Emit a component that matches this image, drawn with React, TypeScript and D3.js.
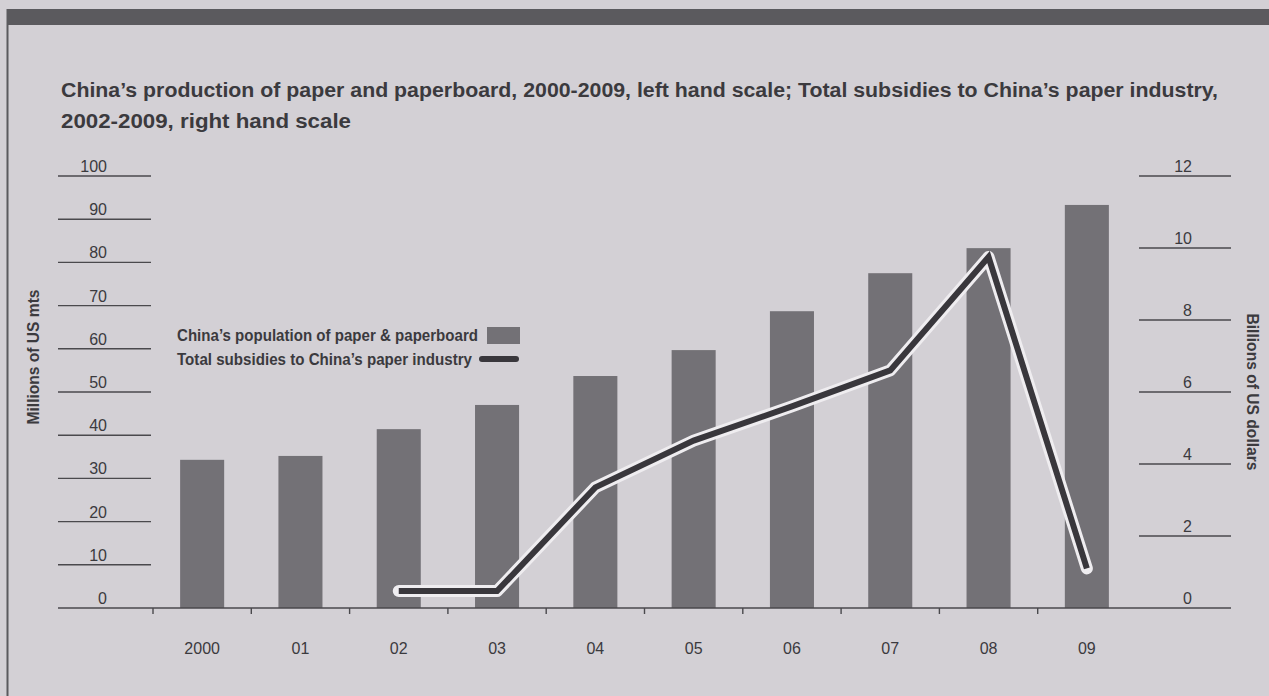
import React from "react";
import * as d3 from "d3";

const categories = ["2000", "01", "02", "03", "04", "05", "06", "07", "08", "09"];
const production = [34.3, 35.2, 41.4, 47.0, 53.7, 59.7, 68.7, 77.5, 83.3, 93.3];
const subsidyYears = ["02", "03", "04", "05", "06", "07", "08", "09"];
const subsidies = [0.47, 0.47, 3.35, 4.65, 5.6, 6.6, 9.75, 1.1];
const leftTicks = [0, 10, 20, 30, 40, 50, 60, 70, 80, 90, 100];
const rightTicks = [0, 2, 4, 6, 8, 10, 12];

const W = 1269;
const H = 696;
const BG = "#d3d0d5";
const BAR = "#737176";
const TEXT = "#3b3a3e";
const FONT = "'Liberation Sans', Arial, sans-serif";

export default function App() {
  const x = d3
    .scaleBand<string>()
    .domain(categories)
    .range([153, 1136])
    .paddingInner(0.552)
    .paddingOuter(0.276);
  const step = x.step();
  const bw = x.bandwidth();
  const yL = d3.scaleLinear().domain([0, 100]).range([608, 176]);
  const yR = d3.scaleLinear().domain([0, 12]).range([608, 176]);
  const cx = (c: string) => (x(c) as number) + bw / 2;

  const lineGen = d3
    .line<number>()
    .x((_, i) => cx(subsidyYears[i]))
    .y((d) => yR(d));
  const path = lineGen(subsidies) || "";

  const baseY = yL(0);

  return (
    <svg
      width={W}
      height={H}
      style={{ position: "absolute", left: 0, top: 0 }}
      fontFamily={FONT}
    >
      <rect x={0} y={0} width={W} height={H} fill={BG} />
      <rect x={7} y={9} width={W - 7} height={16} fill="#5b5a5e" />
      <line x1={7.5} x2={7.5} y1={9} y2={H} stroke="#5b5a5e" strokeWidth={2} />

      {/* Title */}
      <text
        x={61}
        y={97}
        fontSize={20}
        fontWeight="bold"
        fill={TEXT}
        textLength={1157}
        lengthAdjust="spacingAndGlyphs"
      >
        China’s production of paper and paperboard, 2000-2009, left hand scale; Total subsidies to China’s paper industry,
      </text>
      <text
        x={61}
        y={128}
        fontSize={20}
        fontWeight="bold"
        fill={TEXT}
        textLength={290}
        lengthAdjust="spacingAndGlyphs"
      >
        2002-2009, right hand scale
      </text>

      {/* Left axis */}
      {leftTicks.map((t) => (
        <g key={"l" + t}>
          {t > 0 && (
            <line x1={58} x2={151} y1={yL(t)} y2={yL(t)} stroke="#4a494d" strokeWidth={1.4} />
          )}
          <text x={107} y={yL(t) - 4} fontSize={16} textAnchor="end" fill={TEXT}>
            {t}
          </text>
        </g>
      ))}
      <text
        transform={`translate(39,357) rotate(-90)`}
        textAnchor="middle"
        fontSize={16}
        fontWeight="bold"
        fill={TEXT}
        textLength={135}
        lengthAdjust="spacingAndGlyphs"
      >
        Millions of US mts
      </text>

      {/* Right axis */}
      {rightTicks.map((t) => (
        <g key={"r" + t}>
          {t > 0 && (
            <line x1={1139} x2={1231} y1={yR(t)} y2={yR(t)} stroke="#4a494d" strokeWidth={1.4} />
          )}
          <text x={1192} y={yR(t) - 4} fontSize={16} textAnchor="end" fill={TEXT}>
            {t}
          </text>
        </g>
      ))}
      <text
        transform={`translate(1247,392) rotate(90)`}
        textAnchor="middle"
        fontSize={16}
        fontWeight="bold"
        fill={TEXT}
        textLength={157}
        lengthAdjust="spacingAndGlyphs"
      >
        Billions of US dollars
      </text>

      {/* Bars */}
      {categories.map((c, i) => (
        <rect
          key={"b" + c}
          x={x(c)}
          y={yL(production[i])}
          width={bw}
          height={baseY - yL(production[i])}
          fill={BAR}
        />
      ))}

      {/* Baseline and ticks */}
      <line x1={58} x2={1231} y1={baseY} y2={baseY} stroke="#4a494d" strokeWidth={1.6} />
      {categories.map((c) => {
        const tx = (x(c) as number) - (step - bw) / 2;
        return (
          <line key={"t" + c} x1={tx} x2={tx} y1={baseY} y2={baseY + 6} stroke="#4a494d" strokeWidth={1.4} />
        );
      })}
      {categories.map((c) => (
        <text key={"xl" + c} x={cx(c)} y={654} fontSize={16} textAnchor="middle" fill={TEXT}>
          {c}
        </text>
      ))}

      {/* Subsidy line */}
      <path d={path} fill="none" stroke="#efedf0" strokeWidth={12} strokeLinecap="round" strokeLinejoin="round" />
      <path d={path} fill="none" stroke="#39373c" strokeWidth={6} strokeLinecap="butt" strokeLinejoin="miter" />

      {/* Legend */}
      <text
        x={177}
        y={341}
        fontSize={17}
        fontWeight="bold"
        fill={TEXT}
        textLength={301}
        lengthAdjust="spacingAndGlyphs"
      >
        China’s population of paper &amp; paperboard
      </text>
      <rect x={487} y={327} width={33} height={17} fill={BAR} />
      <text
        x={177}
        y={365}
        fontSize={17}
        fontWeight="bold"
        fill={TEXT}
        textLength={295}
        lengthAdjust="spacingAndGlyphs"
      >
        Total subsidies to China’s paper industry
      </text>
      <line x1={482} x2={516} y1={359} y2={359} stroke="#39373c" strokeWidth={6} strokeLinecap="round" />
    </svg>
  );
}
